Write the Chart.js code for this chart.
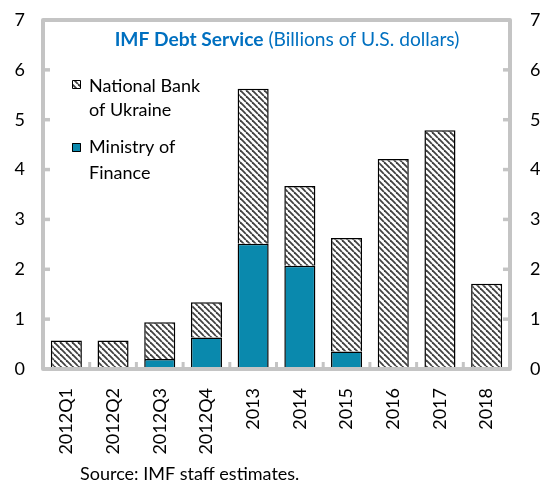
<!DOCTYPE html>
<html>
<head>
<meta charset="utf-8">
<script src="https://cdn.jsdelivr.net/npm/chart.js@4.4.1/dist/chart.umd.min.js"></script>
<style>
  html, body { margin: 0; padding: 0; background: #fff; }
  #c { display: block; }
</style>
</head>
<body>
<canvas id="c" width="543" height="483"></canvas>
<script>
// ---- Data ----
const categories = ['2012Q1','2012Q2','2012Q3','2012Q4','2013','2014','2015','2016','2017','2018'];
const ministryOfFinance = [null, null, 0.20, 0.63, 2.51, 2.07, 0.35, null, null, null];
const nationalBank = [0.57, 0.57, 0.74, 0.71, 3.11, 1.60, 2.28, 4.21, 4.79, 1.71];
const yTicks = [0, 1, 2, 3, 4, 5, 6, 7];

const FONT = 'Lato';
const BLUE = '#0070C0';
const TEAL = '#0A89AD';
const FRAME = '#C4C4C4';

function makeHatch() {
  const s = 6;
  const c = document.createElement('canvas');
  c.width = s; c.height = s;
  const g = c.getContext('2d');
  g.fillStyle = '#fff';
  g.fillRect(0, 0, s, s);
  g.strokeStyle = '#404040';
  g.lineWidth = 1.8;
  for (let k = -1; k <= 1; k++) {
    g.beginPath();
    g.moveTo(k * s, 0);
    g.lineTo(k * s + s, s);
    g.stroke();
  }
  return g.createPattern(c, 'repeat');
}
const hatch = makeHatch();

const decorPlugin = {
  id: 'decor',
  afterDatasetsDraw(chart) {
    const ctx = chart.ctx;
    const a = chart.chartArea;
    const x = chart.scales.x, y = chart.scales.y;
    ctx.save();
    // inward tick marks
    ctx.strokeStyle = FRAME;
    ctx.lineWidth = 3.5;
    yTicks.forEach(v => {
      if (v === 0 || v === 7) return;
      const py = y.getPixelForValue(v);
      ctx.beginPath(); ctx.moveTo(a.left, py); ctx.lineTo(a.left + 7, py); ctx.stroke();
      ctx.beginPath(); ctx.moveTo(a.right, py); ctx.lineTo(a.right - 7, py); ctx.stroke();
    });
    ctx.lineWidth = 3;
    for (let i = 1; i < categories.length; i++) {
      const px = (x.getPixelForValue(i - 1) + x.getPixelForValue(i)) / 2;
      ctx.beginPath(); ctx.moveTo(px, a.bottom); ctx.lineTo(px, a.bottom - 7); ctx.stroke();
    }
    // frame
    ctx.lineWidth = 4;
    ctx.lineJoin = 'round';
    ctx.strokeRect(a.left, a.top, a.right - a.left, a.bottom - a.top);

    // title
    ctx.fillStyle = BLUE;
    ctx.textBaseline = 'alphabetic';
    const t1 = 'IMF Debt Service', t2 = ' (Billions of U.S. dollars)';
    ctx.font = 'bold 19.2px ' + FONT;
    const w1 = ctx.measureText(t1).width;
    ctx.font = '19.2px ' + FONT;
    const w2 = ctx.measureText(t2).width;
    const x0 = 287 - (w1 + w2) / 2;
    ctx.font = 'bold 19.2px ' + FONT;
    ctx.fillText(t1, x0, 46);
    ctx.font = '19.2px ' + FONT;
    ctx.fillText(t2, x0 + w1, 46);

    // legend
    ctx.font = '18px ' + FONT;
    ctx.fillStyle = hatch;
    ctx.fillRect(72, 80, 8, 8);
    ctx.strokeStyle = '#000'; ctx.lineWidth = 1;
    ctx.strokeRect(72.5, 80.5, 8, 8);
    ctx.fillStyle = TEAL;
    ctx.fillRect(72, 143, 9, 9);
    ctx.strokeRect(72.5, 143.5, 8, 8);
    ctx.fillStyle = '#000';
    ctx.fillText('National Bank', 89, 92);
    ctx.fillText('of Ukraine', 89, 116);
    ctx.fillText('Ministry of', 89, 153);
    ctx.fillText('Finance', 89, 179);

    // source
    ctx.font = '18px ' + FONT;
    ctx.fillText('Source: IMF staff estimates.', 80, 480);
    ctx.restore();
  }
};

new Chart(document.getElementById('c'), {
  type: 'bar',
  data: {
    labels: categories,
    datasets: [
      {
        label: 'Ministry of Finance',
        data: ministryOfFinance,
        backgroundColor: TEAL,
        borderColor: '#000',
        borderWidth: 1.5,
        categoryPercentage: 1,
        barPercentage: 0.665,
        yAxisID: 'y'
      },
      {
        label: 'National Bank of Ukraine',
        data: nationalBank,
        backgroundColor: hatch,
        borderColor: '#000',
        borderWidth: 1.5,
        categoryPercentage: 1,
        barPercentage: 0.665,
        yAxisID: 'y'
      }
    ]
  },
  options: {
    responsive: false,
    animation: false,
    devicePixelRatio: 1,
    layout: { padding: { top: 20, bottom: 0, left: 0, right: 0 } },
    plugins: { legend: { display: false }, title: { display: false }, tooltip: { enabled: false } },
    scales: {
      x: {
        stacked: true,
        grid: { display: false, drawTicks: false },
        border: { display: false },
        ticks: { minRotation: 90, maxRotation: 90, padding: 19, color: '#000', font: { family: FONT, size: 18 } },
        afterFit(s) { s.height = 114; }
      },
      y: {
        stacked: true,
        position: 'left',
        min: 0, max: 7,
        grid: { display: false, drawTicks: false },
        border: { display: false },
        ticks: { stepSize: 1, padding: 18, color: '#000', font: { family: FONT, size: 18 } },
        afterFit(s) { s.width = 43; s.paddingTop = 0; s.paddingBottom = 0; }
      },
      y2: {
        position: 'right',
        min: 0, max: 7,
        grid: { display: false, drawTicks: false },
        border: { display: false },
        ticks: { stepSize: 1, padding: 20, color: '#000', font: { family: FONT, size: 18 } },
        afterFit(s) { s.width = 33; s.paddingTop = 0; s.paddingBottom = 0; }
      }
    }
  },
  plugins: [decorPlugin]
});
</script>
</body>
</html>
